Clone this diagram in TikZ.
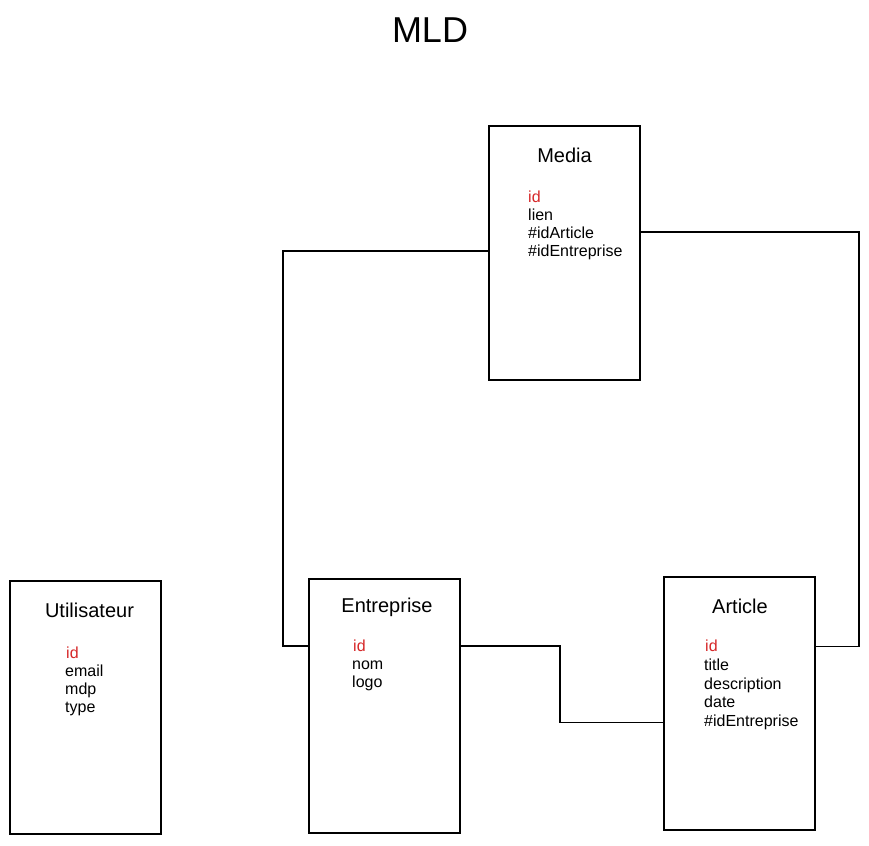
\documentclass[tikz,border=0pt]{standalone}
\usepackage{fontspec}
\setmainfont{Liberation Sans}
\definecolor{pkred}{RGB}{214,39,40}
\begin{document}
\begin{tikzpicture}[x=1pt,y=-1pt,
  tbl/.style={draw=black, line width=1.5pt, fill=white, outer sep=0pt, anchor=north west, minimum width=151pt, minimum height=254pt, inner sep=0pt},
  ttl/.style={font=\fontsize{20}{24}\selectfont, anchor=base, inner sep=0pt},
  fld/.style={font=\fontsize{16}{18}\selectfont, anchor=base west, inner sep=0pt},
  pk/.style={fld, text=pkred},
  link/.style={draw=black, line width=1.5pt}]
\useasboundingbox (0,0) rectangle (869,845);
\node[font=\fontsize{36}{40}\selectfont, anchor=base, inner sep=0pt] (mld) at (430,43) {MLD};

% tables
\node[tbl] (media) at (489,126) {};
\node[tbl, minimum height=253pt] (util) at (10,581) {};
\node[tbl] (entr) at (309,579) {};
\node[tbl, minimum height=253pt] (art) at (664,577) {};

% Media
\node[ttl] (mediaT) at (564.5,163) {Media};
\node[pk]  (mediaF1) at (528,202) {id};
\node[fld] (mediaF2) at (528,220) {lien};
\node[fld] (mediaF3) at (528,238.5) {\#idArticle};
\node[fld] (mediaF4) at (528,256.5) {\#idEntreprise};

% Utilisateur
\node[ttl] (utilT) at (89.5,617) {Utilisateur};
\node[pk]  (utilF1) at (66,658) {id};
\node[fld] (utilF2) at (65,676.5) {email};
\node[fld] (utilF3) at (65,694.5) {mdp};
\node[fld] (utilF4) at (65,712.5) {type};

% Entreprise
\node[ttl] (entrT) at (387,612.5) {Entreprise};
\node[pk]  (entrF1) at (353,651) {id};
\node[fld] (entrF2) at (352,669) {nom};
\node[fld] (entrF3) at (352,687.5) {logo};

% Article
\node[ttl] (artT) at (740,613.5) {Article};
\node[pk]  (artF1) at (705,651) {id};
\node[fld] (artF2) at (704,670) {title};
\node[fld] (artF3) at (704,689) {description};
\node[fld] (artF4) at (704,707.5) {date};
\node[fld] (artF5) at (704,726.5) {\#idEntreprise};

% connectors
\draw[link] ([yshift=2pt]media.west) -| (283,646) -- ([yshift=60pt]entr.west);
\draw[link] ([yshift=21pt]media.east) -| (859,646.5) -- ([yshift=57pt]art.east);
\draw[link] ([yshift=60pt]entr.east) -| (560,722.5) -- ([yshift=-19pt]art.west);
\end{tikzpicture}
\end{document}
